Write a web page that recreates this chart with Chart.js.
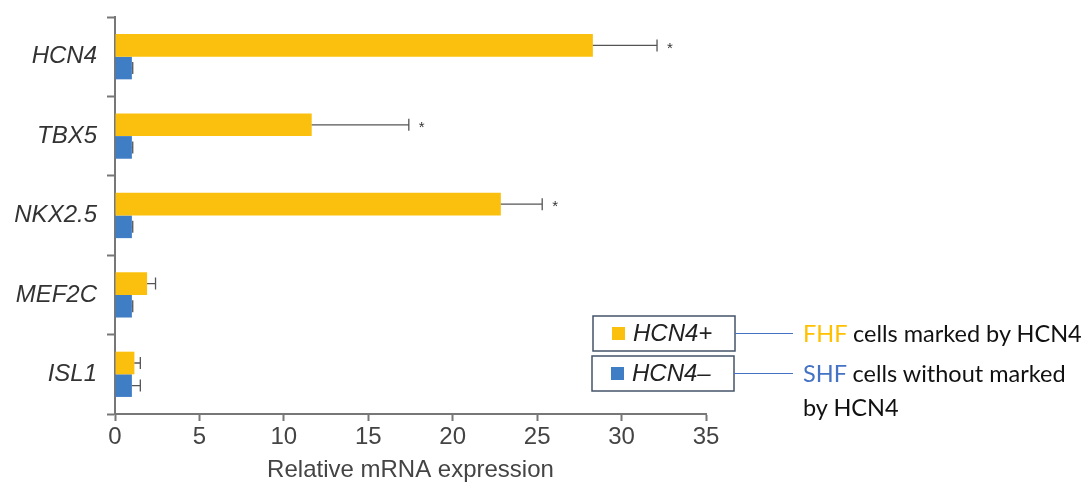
<!DOCTYPE html>
<html>
<head>
<meta charset="utf-8">
<script src="https://cdn.jsdelivr.net/npm/chart.js@4.4.1/dist/chart.umd.min.js"></script>
<style>
    body { margin: 0; background: #fff; }
    #wrap { position: relative; width: 1089px; height: 489px; }
    .note { position: absolute; font-family: Lato, 'Open Sans', sans-serif; font-size: 23.5px; color: #111; white-space: nowrap; line-height: 34px; }
    .link { position: absolute; height: 0; border-top: 1px solid #4472c4; }
</style>
</head>
<body>
<div id="wrap">
    <canvas id="myChart" width="1089" height="489"></canvas>
    <div class="link" style="left:735px; top:333px; width:58px;"></div>
    <div class="link" style="left:734px; top:373px; width:59px;"></div>
    <div class="note" style="left:803px; top:316px;"><span style="color:#ffc000">FHF</span> cells marked by HCN4</div>
    <div class="note" style="left:803px; top:356px;"><span style="color:#4472c4">SHF</span> cells without marked<br>by HCN4</div>
</div>
<script>
const genes = ['HCN4', 'TBX5', 'NKX2.5', 'MEF2C', 'ISL1'];
const plusValues = [28.3, 11.65, 22.85, 1.9, 1.15];
const plusErrors = [32.1, 17.4, 25.3, 2.4, 1.5];
const minusValues = [1.0, 1.0, 1.0, 1.0, 1.0];
const minusErrors = [1.05, 1.05, 1.05, 1.05, 1.5];
const stars = ['*', '*', '*', '', ''];
const xTicks = [0, 5, 10, 15, 20, 25, 30, 35];

const yellow = '#fbc00d';
const blue = '#3f7dc4';

const errorBars = {
    id: 'errorBars',
    afterDatasetsDraw(chart) {
        const c = chart.ctx;
        const x = chart.scales.x;
        const errs = [plusErrors, minusErrors];
        c.save();
        c.strokeStyle = '#555';
        c.lineWidth = 1.3;
        chart.data.datasets.forEach((ds, i) => {
            chart.getDatasetMeta(i).data.forEach((bar, j) => {
                const x0 = x.getPixelForValue(ds.data[j]);
                const x1 = x.getPixelForValue(errs[i][j]);
                c.beginPath();
                c.moveTo(x0, bar.y);
                c.lineTo(x1, bar.y);
                c.moveTo(x1, bar.y - 6);
                c.lineTo(x1, bar.y + 6);
                c.stroke();
                if (i === 0 && stars[j]) {
                    c.fillStyle = '#333';
                    c.font = '15px "Liberation Sans"';
                    c.textBaseline = 'middle';
                    c.fillText(stars[j], x1 + 10, bar.y + 3);
                }
            });
        });
        c.restore();
    }
};

const legendBoxes = {
    id: 'legendBoxes',
    afterDraw(chart) {
        const c = chart.ctx;
        const boxes = [[593, 316, 142, 35], [592, 356, 142, 35]];
        c.save();
        chart.data.datasets.forEach((ds, i) => {
            const b = boxes[i];
            c.strokeStyle = '#44546a';
            c.lineWidth = 1.5;
            c.strokeRect(b[0], b[1], b[2], b[3]);
            c.fillStyle = ds.backgroundColor;
            c.fillRect(b[0] + 19, b[1] + 11, 13, 13);
            c.fillStyle = '#222';
            c.font = 'italic 24px "Liberation Sans"';
            c.textBaseline = 'middle';
            c.fillText(ds.label, b[0] + 40, b[1] + b[3] / 2 + 1);
        });
        c.restore();
    }
};

const ctx = document.getElementById('myChart');

new Chart(ctx, {
    type: 'bar',
    data: {
        labels: genes,
        datasets: [{
            label: 'HCN4+',
            data: plusValues,
            backgroundColor: yellow,
            categoryPercentage: 0.57,
            barPercentage: 1
        }, {
            label: 'HCN4\u2013',
            data: minusValues,
            backgroundColor: blue,
            categoryPercentage: 0.57,
            barPercentage: 1
        }]
    },
    options: {
        indexAxis: 'y',
        responsive: false,
        animation: false,
        layout: {
            padding: { left: 0, right: 383, top: 17, bottom: 0 }
        },
        plugins: {
            legend: { display: false },
            tooltip: { enabled: false }
        },
        scales: {
            x: {
                min: 0,
                max: 35,
                afterFit(scale) { scale.height = 75; },
                afterBuildTicks(scale) { scale.ticks = xTicks.map(v => ({ value: v })); },
                border: { display: true, color: '#777', width: 2 },
                grid: {
                    drawOnChartArea: false,
                    drawTicks: true,
                    tickLength: 7,
                    tickColor: '#777',
                    tickWidth: 2
                },
                ticks: {
                    color: '#444',
                    padding: 2,
                    font: { family: 'Liberation Sans', size: 24 }
                },
                title: {
                    display: true,
                    text: 'Relative mRNA expression',
                    color: '#444',
                    padding: { top: 0, bottom: 4 },
                    font: { family: 'Liberation Sans', size: 24 }
                }
            },
            y: {
                afterFit(scale) {
                    scale.width = 115;
                    scale.paddingTop = 0;
                    scale.paddingBottom = 0;
                },
                border: { display: true, color: '#777', width: 2 },
                grid: {
                    offset: true,
                    drawOnChartArea: false,
                    drawTicks: true,
                    tickLength: 8,
                    tickColor: '#777',
                    tickWidth: 2
                },
                ticks: {
                    color: '#333',
                    padding: 10,
                    font: { family: 'Liberation Sans', size: 24, style: 'italic' }
                }
            }
        }
    },
    plugins: [errorBars, legendBoxes]
});
</script>
</body>
</html>
